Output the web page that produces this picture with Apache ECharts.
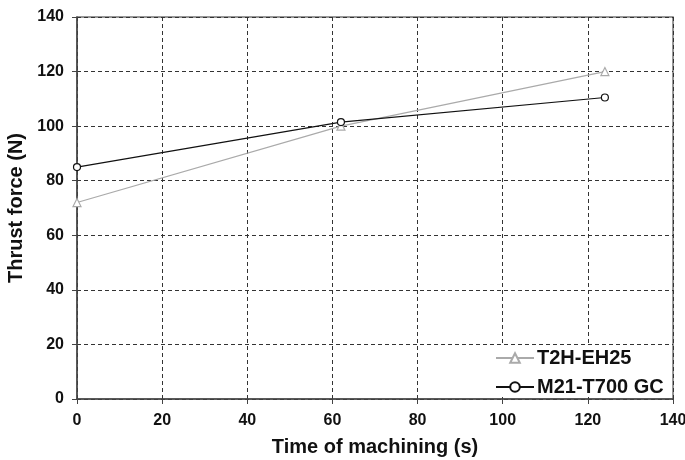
<!DOCTYPE html>
<html>
<head>
<meta charset="utf-8">
<script src="https://cdn.jsdelivr.net/npm/echarts@6/dist/echarts.min.js"></script>
<style>html,body{margin:0;padding:0;background:#fff;}#c{width:685px;height:460px;}</style>
</head>
<body>
<div id="c"></div>
<script>
const timeValues = [0, 62, 124];
const t2hValues = [72, 100, 120];
const m21Values = [85, 101.5, 110.5];
const seriesNames = ['T2H-EH25', 'M21-T700 GC'];
const xTitle = 'Time of machining (s)';
const yTitle = 'Thrust force (N)';

const chart = echarts.init(document.getElementById('c'));
const font = 'Liberation Sans, Arial, sans-serif';
chart.setOption({
  animation: false,
  backgroundColor: '#fff',
  grid: { left: 77, right: 12, top: 17, bottom: 61, show: true, borderColor: '#777', borderWidth: 1.5, outerBoundsMode: 'none', containLabel: false },
  xAxis: {
    type: 'value', min: 0, max: 140, interval: 20,
    name: xTitle, nameLocation: 'middle', nameGap: 38,
    nameTextStyle: { fontFamily: font, fontWeight: 'bold', fontSize: 20, color: '#111' },
    axisLine: { show: true, lineStyle: { color: '#444', width: 1.5 } },
    axisTick: { show: true, length: 5, lineStyle: { color: '#444' } },
    axisLabel: { fontFamily: font, fontWeight: 'bold', fontSize: 16, color: '#111', margin: 14 },
    splitLine: { show: true, lineStyle: { color: '#333', type: [4, 3], width: 1 } }
  },
  yAxis: {
    type: 'value', min: 0, max: 140, interval: 20,
    name: yTitle, nameLocation: 'middle', nameGap: 49,
    nameTextStyle: { fontFamily: font, fontWeight: 'bold', fontSize: 20, color: '#111' },
    axisLine: { show: true, lineStyle: { color: '#444', width: 1.5 } },
    axisTick: { show: true, length: 5, lineStyle: { color: '#444' } },
    axisLabel: { fontFamily: font, fontWeight: 'bold', fontSize: 16, color: '#111', margin: 13 },
    splitLine: { show: true, lineStyle: { color: '#333', type: [4, 3], width: 1 } }
  },
  legend: {
    orient: 'vertical', left: 470, top: 346, align: 'left',
    backgroundColor: '#fff', padding: [2, 3, 0, 25], itemGap: 9,
    itemWidth: 38, itemHeight: 12,
    textStyle: { fontFamily: font, fontWeight: 'bold', fontSize: 20, color: '#111', padding: [0, 0, 0, -2] },
    data: seriesNames
  },
  series: [
    {
      name: seriesNames[0], type: 'line',
      data: timeValues.map((t, i) => [t, t2hValues[i]]),
      symbol: 'triangle', symbolSize: 8, showAllSymbol: true,
      lineStyle: { color: '#aaa', width: 1.2 },
      itemStyle: { color: '#fff', borderColor: '#aaa', borderWidth: 1.2 },
      z: 3
    },
    {
      name: seriesNames[1], type: 'line',
      data: timeValues.map((t, i) => [t, m21Values[i]]),
      symbol: 'circle', symbolSize: 7, showAllSymbol: true,
      lineStyle: { color: '#111', width: 1.2 },
      itemStyle: { color: '#fff', borderColor: '#111', borderWidth: 1.2 },
      z: 4
    }
  ]
});
</script>
</body>
</html>
